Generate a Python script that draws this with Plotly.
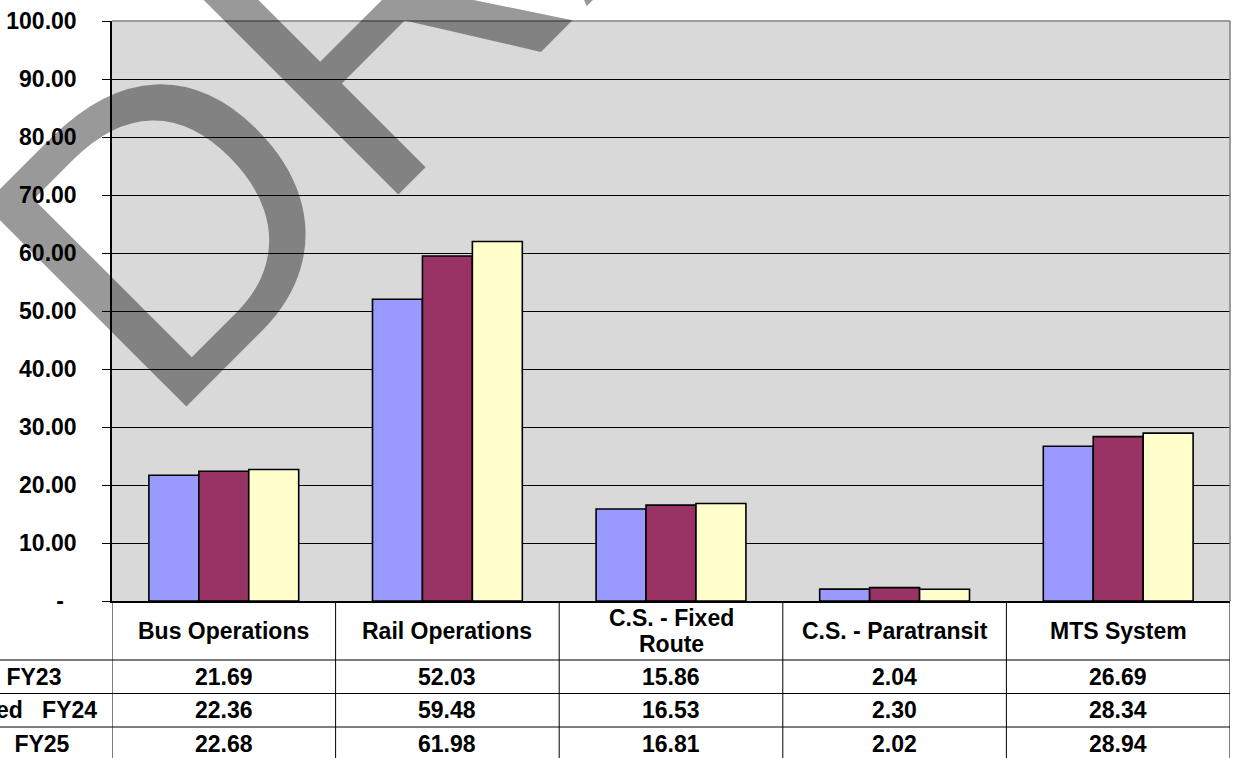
import plotly.graph_objects as go

# ---- data -------------------------------------------------------------
categories = ["Bus Operations", "Rail Operations", "C.S. - Fixed Route",
              "C.S. - Paratransit", "MTS System"]
header_labels = ["Bus Operations", "Rail Operations", "C.S. - Fixed<br>Route",
                 "C.S. - Paratransit", "MTS System"]
series_names = ["FY23", "FY24", "FY25"]
row_labels = ["Actual\u00a0\u00a0\u00a0FY23", "Estimated\u00a0\u00a0\u00a0FY24",
              "Budget\u00a0\u00a0\u00a0FY25"]
fy23 = [21.69, 52.03, 15.86, 2.04, 26.69]
fy24 = [22.36, 59.48, 16.53, 2.30, 28.34]
fy25 = [22.68, 61.98, 16.81, 2.02, 28.94]
y_tick_values = [0, 10, 20, 30, 40, 50, 60, 70, 80, 90, 100]
y_tick_text = ["-\u00a0\u00a0", "10.00", "20.00", "30.00", "40.00", "50.00",
               "60.00", "70.00", "80.00", "90.00", "100.00"]
watermark = "DRAFT"

# ---- styling ----------------------------------------------------------
W, H = 1236, 758
ML, MR, MT, MB = 110, 6, 21, 157
PLOT_W = W - ML - MR
PLOT_H = H - MT - MB
FONT = "Liberation Sans, Arial, sans-serif"
colors = ["#9999FF", "#993366", "#FFFFCC"]


def py(px_y):
    """Convert a page pixel row into paper-y."""
    return (H - MB - px_y) / PLOT_H


def px_x(px):
    return (px - ML) / PLOT_W


fig = go.Figure()
for name, vals, col in zip(series_names, [fy23, fy24, fy25], colors):
    fig.add_trace(go.Bar(
        x=categories, y=vals, name=name,
        marker=dict(color=col, line=dict(color="black", width=1.6)),
    ))

# ---- data table under the chart ----------------------------------------
header_top, header_bot = 601, 660
row_h = 33.5
line_gap = 26
shapes = []
anns = []

# vertical separators on category boundaries
for k in range(len(categories) + 1):
    shapes.append(dict(type="line", xref="x", yref="paper",
                       x0=k - 0.5, x1=k - 0.5, y0=py(header_top), y1=py(H + 5),
                       line=dict(color="black", width=1)))
# horizontal rules
for r in range(len(series_names) + 1):
    yy = header_bot + r * row_h
    shapes.append(dict(type="line", xref="paper", yref="paper",
                       x0=px_x(-5), x1=1, y0=py(yy), y1=py(yy),
                       line=dict(color="black", width=1)))
# plot-area top and right border
shapes.append(dict(type="line", xref="paper", yref="paper", x0=0, x1=1, y0=1, y1=1,
                   line=dict(color="#808080", width=1.5)))
shapes.append(dict(type="line", xref="paper", yref="paper", x0=1, x1=1, y0=0, y1=1,
                   line=dict(color="#808080", width=1.5)))

tfont = dict(family=FONT, size=23, color="black", weight="bold")
for cat, lab in zip(categories, header_labels):
    parts = lab.split("<br>")
    mid = (header_top + header_bot) / 2
    for i, part in enumerate(parts):
        yc = mid + (i - (len(parts) - 1) / 2) * line_gap
        anns.append(dict(xref="x", yref="paper", x=cat, y=py(yc),
                         text=part, showarrow=False, font=tfont,
                         xanchor="center", yanchor="middle"))

label_right = [61, 97, 70]
for r, (lab, vals) in enumerate(zip(row_labels, [fy23, fy24, fy25])):
    yc = header_bot + (r + 0.5) * row_h
    anns.append(dict(xref="paper", yref="paper", x=px_x(label_right[r]), y=py(yc),
                     text=lab, showarrow=False, font=tfont,
                     xanchor="right", yanchor="middle"))
    for cat, v in zip(categories, vals):
        anns.append(dict(xref="x", yref="paper", x=cat, y=py(yc),
                         text=f"{v:.2f}", showarrow=False, font=tfont,
                         xanchor="center", yanchor="middle"))

# translucent watermark
anns.append(dict(xref="paper", yref="paper", x=px_x(548), y=py(-160),
                 text=watermark, showarrow=False, textangle=-45,
                 font=dict(family=FONT, size=415, color="rgba(0,0,0,0.4)"),
                 xanchor="center", yanchor="middle"))

fig.update_layout(
    width=W, height=H,
    margin=dict(l=ML, r=MR, t=MT, b=MB, pad=0),
    paper_bgcolor="white", plot_bgcolor="#D9D9D9",
    barmode="group", bargap=0.33, bargroupgap=0,
    showlegend=False,
    shapes=shapes, annotations=anns,
    font=dict(family=FONT, color="black"),
)
fig.update_xaxes(showticklabels=False, ticks="", showgrid=False,
                 showline=True, linecolor="black", linewidth=1.5,
                 range=[-0.5, len(categories) - 0.5], zeroline=False)
fig.update_yaxes(range=[0, 100], tickvals=y_tick_values, ticktext=y_tick_text,
                 ticks="outside", ticklen=8, tickcolor="black", tickwidth=1,
                 showgrid=True, gridcolor="black", gridwidth=1,
                 showline=True, linecolor="black", linewidth=1.5,
                 zeroline=False, ticklabelstandoff=21,
                 tickfont=dict(family=FONT, size=23, color="black", weight="bold"))

fig.write_html("out.html")
